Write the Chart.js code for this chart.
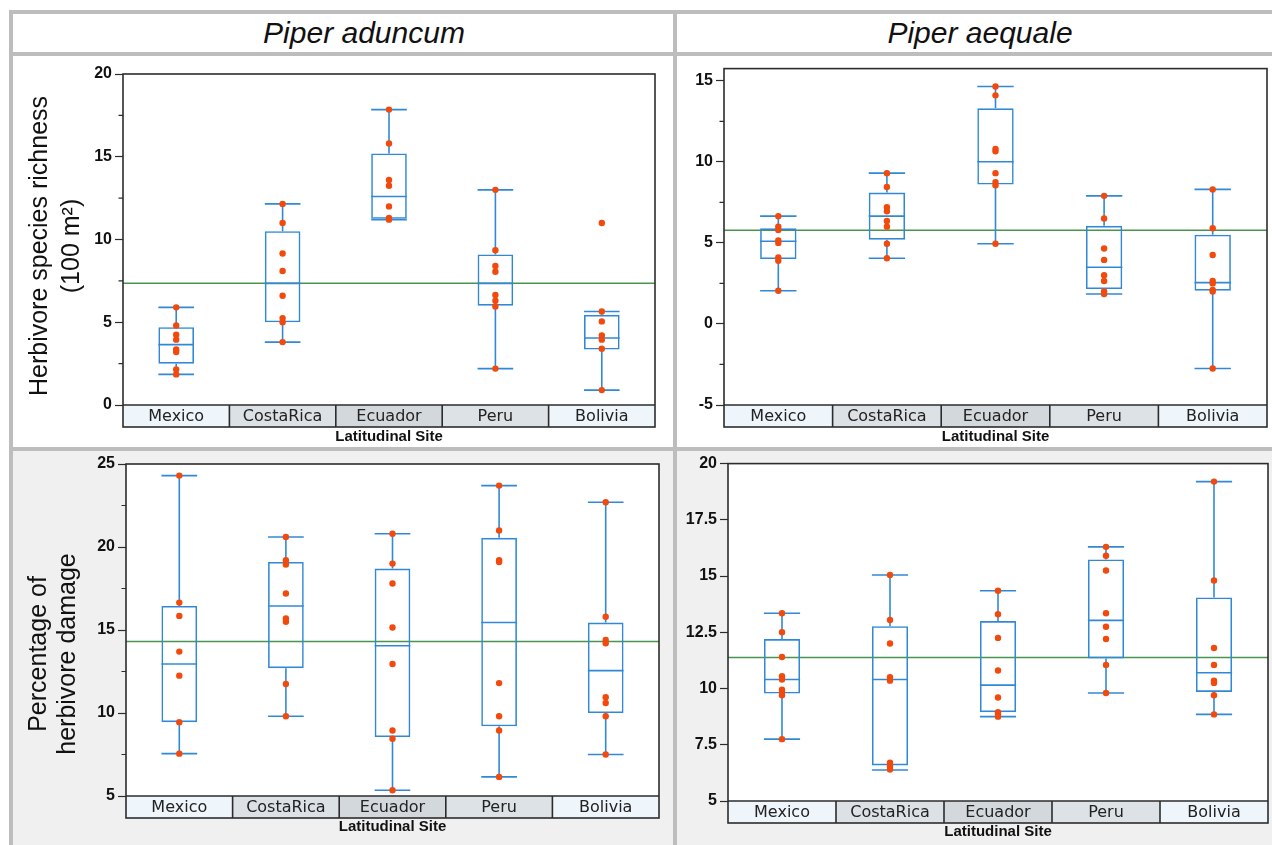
<!DOCTYPE html>
<html>
<head>
<meta charset="utf-8">
<script src="https://cdn.jsdelivr.net/npm/chart.js@4.4.1/dist/chart.umd.min.js"></script>
<style>
  body { margin: 0; width: 1272px; height: 845px; position: relative; overflow: hidden; background: #fff; font-family: 'Liberation Sans', Arial, sans-serif; }
  .rule { position: absolute; background: #bdbdbd; }
  .bg { position: absolute; background: #f0f0f0; }
  .head { position: absolute; top: 14px; width: 320px; height: 38px; line-height: 38px; text-align: center; font-style: italic; font-size: 30px; color: #111; }
  .box { position: absolute; }
</style>
</head>
<body>
<div class="bg" style="left:13px;top:451px;width:660px;height:394px"></div>
<div class="bg" style="left:677px;top:451px;width:595px;height:394px"></div>

<div class="rule" style="left:9px;top:10px;width:1263px;height:4px"></div>
<div class="rule" style="left:9px;top:52px;width:1263px;height:4px"></div>
<div class="rule" style="left:9px;top:447px;width:1263px;height:4px"></div>
<div class="rule" style="left:9px;top:10px;width:4px;height:835px"></div>
<div class="rule" style="left:673px;top:10px;width:4px;height:835px"></div>

<div class="head" style="left:204px">Piper aduncum</div>
<div class="head" style="left:820px">Piper aequale</div>

<div class="box" style="left:13px;top:56px;width:660px;height:391px"><canvas id="richAdun"></canvas></div>
<div class="box" style="left:677px;top:56px;width:595px;height:391px"><canvas id="richAeq"></canvas></div>
<div class="box" style="left:13px;top:451px;width:660px;height:394px"><canvas id="dmgAdun"></canvas></div>
<div class="box" style="left:677px;top:451px;width:595px;height:394px"><canvas id="dmgAeq"></canvas></div>

<script>
const sites = ['Mexico', 'CostaRica', 'Ecuador', 'Peru', 'Bolivia'];

// [whisker low, Q1, median, Q3, whisker high] per site
const richAdunStats = [
    [1.85, 2.5, 3.65, 4.7, 5.9],
    [3.8, 5.0, 7.35, 10.5, 12.15],
    [11.2, 11.25, 12.6, 15.2, 17.85],
    [2.2, 6.0, 7.35, 9.1, 13.0],
    [0.9, 3.35, 4.05, 5.45, 5.65],
];
const richAdunPoints = [
    [5.9, 4.8, 4.25, 3.95, 3.35, 3.2, 2.15, 1.85],
    [12.15, 11.0, 9.15, 8.1, 6.6, 5.25, 5.0, 3.8],
    [17.85, 15.8, 13.6, 13.25, 12.0, 11.3, 11.2],
    [13.0, 9.35, 8.4, 8.05, 6.65, 6.3, 5.95, 2.2],
    [11.0, 5.65, 5.05, 4.2, 3.95, 3.4, 0.9],
];
const richAdunMean = 7.35;

const richAeqStats = [
    [2.05, 4.0, 5.1, 5.9, 6.65],
    [4.05, 5.2, 6.65, 8.1, 9.3],
    [4.95, 8.6, 10.0, 13.3, 14.65],
    [1.85, 2.15, 3.5, 6.05, 7.9],
    [-2.75, 2.05, 2.55, 5.5, 8.3],
];
const richAeqPoints = [
    [6.65, 6.0, 5.8, 5.15, 5.0, 4.1, 3.9, 2.05],
    [9.3, 8.45, 7.2, 6.95, 6.35, 6.0, 4.95, 4.05],
    [14.65, 14.1, 10.8, 10.65, 9.3, 8.75, 8.55, 4.95],
    [7.9, 6.5, 4.65, 3.95, 3.0, 2.65, 2.0, 1.85],
    [8.3, 5.9, 4.25, 2.65, 2.5, 2.1, 2.0, -2.75],
];
const richAeqMean = 5.78;

const dmgAdunStats = [
    [7.55, 9.45, 12.95, 16.45, 24.3],
    [9.8, 12.7, 16.45, 19.1, 20.6],
    [5.35, 8.55, 14.05, 18.7, 20.8],
    [6.15, 9.2, 15.45, 20.55, 23.7],
    [7.5, 10.0, 12.55, 15.45, 22.7],
];
const dmgAdunPoints = [
    [24.3, 16.65, 15.85, 13.7, 12.25, 9.45, 7.55],
    [20.6, 19.2, 18.95, 17.2, 15.7, 15.5, 11.75, 9.8],
    [20.8, 19.0, 17.8, 15.15, 12.95, 8.95, 8.45, 5.35],
    [23.7, 21.0, 19.2, 19.1, 11.8, 9.8, 8.95, 6.15],
    [22.7, 15.8, 14.4, 14.2, 10.95, 10.6, 9.8, 7.5],
];
const dmgAdunMean = 14.3;

const dmgAeqStats = [
    [7.75, 9.78, 10.4, 12.2, 13.35],
    [6.38, 6.58, 10.4, 12.77, 15.05],
    [8.75, 8.95, 10.15, 13.0, 14.35],
    [9.8, 11.34, 13.03, 15.74, 16.3],
    [8.85, 9.85, 10.7, 14.05, 19.2],
];
const dmgAeqPoints = [
    [13.35, 12.5, 11.4, 10.55, 10.4, 9.95, 9.85, 9.7, 7.75],
    [15.05, 13.05, 12.0, 10.5, 10.35, 6.7, 6.55, 6.4],
    [14.35, 13.3, 12.25, 10.8, 9.6, 8.95, 8.85, 8.75],
    [16.3, 15.9, 15.25, 13.35, 12.75, 12.2, 11.05, 9.8],
    [19.2, 14.8, 11.8, 11.05, 10.35, 10.25, 9.7, 8.85],
];
const dmgAeqMean = 11.38;

// axis ticks
const richAdunTicks = [0, 5, 10, 15, 20];
const richAdunMinor = [2.5, 7.5, 12.5, 17.5];
const richAeqTicks = [-5, 0, 5, 10, 15];
const richAeqMinor = [-2.5, 2.5, 7.5, 12.5];
const dmgAdunTicks = [5, 10, 15, 20, 25];
const dmgAdunMinor = [7.5, 12.5, 17.5, 22.5];
const dmgAeqTicks = [5, 7.5, 10, 12.5, 15, 17.5, 20];
const dmgAeqMinor = [];

const bandColors = ['#eef5fb', '#dce1e6', '#d3d8dc', '#dde2e6', '#eef5fb'];
const BOX_BLUE = '#3189d6';
const DOT_RED = '#f2490d';
const MEAN_GREEN = '#4a9450';
const FRAME = '#2c2c2c';
const BAND_H = 22;

function boxExtras(p) {
    return {
        id: 'boxExtras',
        beforeDraw(chart) {
            const { ctx, chartArea: a, scales: { x } } = chart;
            const bw = (a.right - a.left) / sites.length;
            ctx.save();
            ctx.fillStyle = '#fff';
            ctx.fillRect(a.left, a.top, a.right - a.left, a.bottom - a.top);
            sites.forEach((s, i) => {
                ctx.fillStyle = bandColors[i];
                ctx.fillRect(x.getPixelForValue(i) - bw / 2, a.bottom, bw, BAND_H);
            });
            ctx.restore();
        },
        beforeDatasetsDraw(chart) {
            const { ctx, chartArea: a, scales: { y } } = chart;
            ctx.save();
            // grand mean
            const my = y.getPixelForValue(p.mean);
            ctx.strokeStyle = MEAN_GREEN;
            ctx.lineWidth = 1.5;
            ctx.beginPath();
            ctx.moveTo(a.left, my);
            ctx.lineTo(a.right, my);
            ctx.stroke();

            // whiskers, caps, medians
            const meta = chart.getDatasetMeta(1);
            ctx.strokeStyle = BOX_BLUE;
            ctx.lineWidth = 1.6;
            p.stats.forEach((s, i) => {
                const bar = meta.data[i];
                const cx = bar.x, hw = bar.width / 2;
                const [lo, q1, med, q3, hi] = s.map(v => y.getPixelForValue(v));
                ctx.beginPath();
                ctx.moveTo(cx, lo); ctx.lineTo(cx, q1);
                ctx.moveTo(cx, q3); ctx.lineTo(cx, hi);
                ctx.moveTo(cx - hw, lo); ctx.lineTo(cx + hw, lo);
                ctx.moveTo(cx - hw, hi); ctx.lineTo(cx + hw, hi);
                ctx.moveTo(cx - hw, med); ctx.lineTo(cx + hw, med);
                ctx.stroke();
            });
            ctx.restore();
        },
        afterDraw(chart) {
            const { ctx, chartArea: a, scales: { x, y } } = chart;
            const bw = (a.right - a.left) / sites.length;
            ctx.save();
            ctx.strokeStyle = FRAME;
            ctx.lineWidth = 1.6;
            ctx.strokeRect(a.left, a.top, a.right - a.left, a.bottom + BAND_H - a.top);
            ctx.beginPath();
            ctx.moveTo(a.left, a.bottom);
            ctx.lineTo(a.right, a.bottom);
            for (let i = 1; i < sites.length; i++) {
                const bx = x.getPixelForValue(i) - bw / 2;
                ctx.moveTo(bx, a.bottom);
                ctx.lineTo(bx, a.bottom + BAND_H);
            }
            ctx.stroke();

            // minor ticks
            ctx.lineWidth = 1.2;
            ctx.beginPath();
            p.minor.forEach(v => {
                const ty = y.getPixelForValue(v);
                ctx.moveTo(a.left - 4.5, ty);
                ctx.lineTo(a.left, ty);
            });
            ctx.stroke();

            // y axis title
            if (p.ytitle) {
                ctx.fillStyle = '#111';
                ctx.font = '25px "Liberation Sans", Arial, sans-serif';
                ctx.textAlign = 'center';
                ctx.textBaseline = 'middle';
                p.ytitle.lines.forEach((line, k) => {
                    ctx.save();
                    ctx.translate(p.ytitle.x[k] - p.box.l, p.ytitle.y - p.box.t);
                    ctx.rotate(-Math.PI / 2);
                    ctx.fillText(line, 0, 0);
                    ctx.restore();
                });
            }
            ctx.restore();
        },
    };
}

function makePanel(id, p) {
    const ctx = document.getElementById(id).getContext('2d');
    const scatter = [];
    p.points.forEach((vals, i) => vals.forEach(v => scatter.push({ x: sites[i], y: v })));

    const yWidth = p.area.l - p.box.l;
    const xHeight = p.box.t + p.box.h - p.area.b;
    const titlePad = p.box.t + p.box.h - p.titleY - 9;

    return new Chart(ctx, {
        type: 'bar',
        data: {
            labels: sites,
            datasets: [
                {
                    type: 'scatter',
                    data: scatter,
                    pointRadius: 3.2,
                    pointBackgroundColor: DOT_RED,
                    pointBorderWidth: 0,
                    order: 0,
                },
                {
                    data: p.stats.map(s => [s[1], s[3]]),
                    backgroundColor: 'rgba(0,0,0,0)',
                    borderColor: BOX_BLUE,
                    borderWidth: 1.6,
                    borderSkipped: false,
                    barPercentage: 0.335,
                    categoryPercentage: 1,
                    order: 1,
                },
            ],
        },
        options: {
            responsive: true,
            maintainAspectRatio: false,
            animation: false,
            layout: {
                padding: { left: 0, top: p.area.t - p.box.t, right: p.box.l + p.box.w - p.area.r, bottom: 0 },
            },
            plugins: {
                legend: { display: false },
                tooltip: { enabled: false },
            },
            scales: {
                x: {
                    offset: true,
                    grid: { display: false, drawTicks: false },
                    border: { display: false },
                    ticks: {
                        font: { family: '"DejaVu Sans", sans-serif', size: 16 },
                        color: '#222',
                        padding: 2,
                        maxRotation: 0,
                        autoSkip: false,
                    },
                    title: {
                        display: true,
                        text: 'Latitudinal Site',
                        color: '#111',
                        font: { family: '"Liberation Sans", Arial, sans-serif', size: 15, weight: 'bold' },
                        padding: { top: 0, bottom: titlePad },
                    },
                    afterFit: (scale) => { scale.height = xHeight; },
                },
                y: {
                    min: p.min,
                    max: p.max,
                    afterBuildTicks: (scale) => { scale.ticks = p.ticks.map(v => ({ value: v })); },
                    grid: { drawOnChartArea: false, tickLength: 8, tickColor: FRAME, tickWidth: 1.2 },
                    border: { display: false },
                    ticks: {
                        padding: 3,
                        color: '#111',
                        font: { family: '"Liberation Sans", Arial, sans-serif', size: 16, weight: 'bold' },
                    },
                    afterFit: (scale) => { scale.width = yWidth; },
                },
            },
        },
        plugins: [boxExtras(p)],
    });
}

makePanel('richAdun', {
    stats: richAdunStats, points: richAdunPoints, mean: richAdunMean,
    min: 0, max: 20, ticks: richAdunTicks, minor: richAdunMinor,
    box: { l: 13, t: 56, w: 660, h: 391 },
    area: { l: 123, t: 74, r: 655, b: 405 },
    titleY: 437,
    ytitle: { lines: ['Herbivore species richness', '(100 m²)'], x: [40, 72], y: 246 },
});

makePanel('richAeq', {
    stats: richAeqStats, points: richAeqPoints, mean: richAeqMean,
    min: -5, max: 15.75, ticks: richAeqTicks, minor: richAeqMinor,
    box: { l: 677, t: 56, w: 595, h: 391 },
    area: { l: 724, t: 66, r: 1267, b: 405 },
    titleY: 437,
});

makePanel('dmgAdun', {
    stats: dmgAdunStats, points: dmgAdunPoints, mean: dmgAdunMean,
    min: 5, max: 25, ticks: dmgAdunTicks, minor: dmgAdunMinor,
    box: { l: 13, t: 451, w: 660, h: 394 },
    area: { l: 126, t: 464, r: 659, b: 796 },
    titleY: 827,
    ytitle: { lines: ['Percentage of', 'herbivore damage'], x: [39, 68], y: 654 },
});

makePanel('dmgAeq', {
    stats: dmgAeqStats, points: dmgAeqPoints, mean: dmgAeqMean,
    min: 5, max: 20, ticks: dmgAeqTicks, minor: dmgAeqMinor,
    box: { l: 677, t: 451, w: 595, h: 394 },
    area: { l: 728, t: 463, r: 1268, b: 801 },
    titleY: 832,
});
</script>
</body>
</html>
